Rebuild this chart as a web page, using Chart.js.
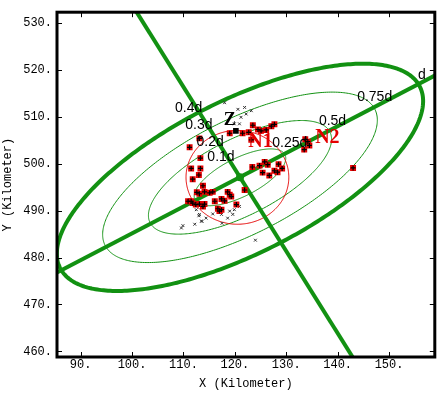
<!DOCTYPE html>
<html>
<head>
<meta charset="utf-8">
<script src="https://cdn.jsdelivr.net/npm/chart.js@4/dist/chart.umd.min.js"></script>
<style>
  html, body { margin: 0; padding: 0; background: #fff; }
  #wrap { width: 440px; height: 393px; }
</style>
</head>
<body>
<div id="wrap"><canvas id="chart" width="440" height="393"></canvas></div>
<script>
// axis ranges and ticks
const xRange = [85.4, 158.9];
const yRange = [458.8, 532.3];
const xTicks = [90, 100, 110, 120, 130, 140, 150];
const yTicks = [460, 470, 480, 490, 500, 510, 520, 530];

// error ellipse "d" and its scaled copies
const ellipseCenter = [121.0, 497.1];
const ellipseAxes = [40, 16];      // semi-major, semi-minor of the "d" ellipse
const ellipseAngle = 29.74;        // degrees
const ellipseScales = [1, 0.75, 0.5, 0.25];
const majorAxisLine = [{ x: 85.4, y: 476.8 }, { x: 158.9, y: 518.8 }];
const minorAxisLine = [{ x: 100.9, y: 532.3 }, { x: 142.9, y: 458.8 }];

// red circle
const circleCenter = [120.5, 497.1];
const circleRadius = 10;

// red events (x, y)
const redPoints = [
  [111.2, 503.5], [113.3, 501.2], [111.5, 499.0], [113.3, 499.0], [113.0, 497.6], [111.8, 496.7],
  [113.8, 495.3], [112.6, 493.9], [113.1, 493.6], [114.1, 494.0], [115.1, 493.8], [115.7, 494.0],
  [110.9, 492.0], [111.5, 492.0], [111.8, 491.6], [112.4, 491.3], [113.1, 491.4], [114.1, 491.4],
  [113.8, 490.9], [118.6, 494.0], [119.0, 493.4], [119.3, 493.0], [116.7, 490.4], [117.4, 490.2],
  [117.0, 489.9], [116.1, 492.0], [117.4, 492.5], [118.0, 492.1], [120.3, 491.3], [123.4, 499.3],
  [124.8, 499.6], [125.8, 500.4], [126.4, 499.8], [125.4, 498.1], [126.7, 497.5], [127.7, 498.5],
  [128.3, 498.2], [128.5, 499.9], [129.2, 499.0], [119.0, 506.5], [121.5, 506.5], [122.7, 506.7],
  [123.2, 505.1], [123.5, 508.2], [124.5, 507.3], [125.1, 507.0], [126.1, 507.2], [127.1, 508.0],
  [127.7, 508.4], [121.9, 494.4], [133.7, 505.2], [134.2, 504.7], [133.5, 503.0], [134.5, 503.9],
  [143.0, 499.1], [113.1, 505.4]
];

// small grey x events
const greyPoints = [
  [120.6, 511.6], [121.9, 512.0], [122.2, 510.6], [121.2, 509.9], [120.9, 508.5], [119.9, 508.5],
  [123.2, 511.3], [118.0, 513.0], [109.9, 486.8], [109.6, 486.3], [112.2, 487.1], [113.0, 488.9],
  [113.6, 487.7], [115.7, 489.3], [117.4, 489.2], [119.0, 489.9], [119.9, 490.2], [120.9, 490.9],
  [118.6, 488.4], [117.5, 487.3], [124.0, 483.7], [113.1, 489.2], [113.5, 487.8], [114.4, 488.4],
  [119.6, 489.2], [112.5, 490.2]
];

// black marker near Z
const blackPoints = [[120.2, 507.0]];

// text annotations: text, x, y
const ringLabels = [
  ['0.4d', 111.0, 511.8], ['0.3d', 113.0, 508.3], ['0.2d', 115.2, 504.5], ['0.1d', 117.3, 501.4],
  ['0.25d', 130.7, 504.3], ['0.5d', 139.0, 509.1], ['0.75d', 147.2, 514.3], ['d', 156.4, 518.8]
];
const stationLabels = [['N1', 125.0, 504.7], ['N2', 138.0, 505.6]];
const zLabel = ['Z', 119.0, 509.3];

const green = 'rgb(18,145,18)';
const red = 'rgb(228,0,0)';
const monoFont = { family: 'Liberation Mono, Courier New, monospace', size: 12 };

const toXY = arr => arr.map(p => ({ x: p[0], y: p[1] }));

const overlay = {
  id: 'overlay',
  beforeDatasetsDraw(chart) {
    const { ctx, chartArea: a, scales: { x, y } } = chart;
    ctx.save();
    ctx.beginPath();
    ctx.rect(a.left, a.top, a.right - a.left, a.bottom - a.top);
    ctx.clip();
    const th = ellipseAngle * Math.PI / 180;
    ellipseScales.forEach(s => {
      ctx.beginPath();
      for (let i = 0; i <= 360; i++) {
        const t = i * Math.PI / 180;
        const ex = s * ellipseAxes[0] * Math.cos(t);
        const ey = s * ellipseAxes[1] * Math.sin(t);
        const px = x.getPixelForValue(ellipseCenter[0] + ex * Math.cos(th) - ey * Math.sin(th));
        const py = y.getPixelForValue(ellipseCenter[1] + ex * Math.sin(th) + ey * Math.cos(th));
        if (i) ctx.lineTo(px, py); else ctx.moveTo(px, py);
      }
      ctx.closePath();
      ctx.lineWidth = s === 1 ? 4 : 1;
      ctx.strokeStyle = green;
      ctx.stroke();
    });
    // red circle
    ctx.beginPath();
    for (let i = 0; i <= 360; i++) {
      const t = i * Math.PI / 180;
      const px = x.getPixelForValue(circleCenter[0] + circleRadius * Math.cos(t));
      const py = y.getPixelForValue(circleCenter[1] + circleRadius * Math.sin(t));
      if (i) ctx.lineTo(px, py); else ctx.moveTo(px, py);
    }
    ctx.lineWidth = 1;
    ctx.strokeStyle = red;
    ctx.stroke();
    ctx.restore();
  },
  afterDatasetsDraw(chart) {
    const { ctx, scales: { x, y } } = chart;
    ctx.save();
    ctx.textAlign = 'center';
    ctx.textBaseline = 'middle';
    ctx.fillStyle = '#000';
    ctx.font = '14px "Liberation Sans", Arial, sans-serif';
    ringLabels.forEach(l => ctx.fillText(l[0], x.getPixelForValue(l[1]), y.getPixelForValue(l[2])));
    ctx.fillStyle = red;
    ctx.font = 'bold 20px "Liberation Serif", "Times New Roman", serif';
    stationLabels.forEach(l => ctx.fillText(l[0], x.getPixelForValue(l[1]), y.getPixelForValue(l[2])));
    ctx.fillStyle = '#000';
    ctx.font = 'bold 18px "Liberation Serif", "Times New Roman", serif';
    ctx.fillText(zLabel[0], x.getPixelForValue(zLabel[1]), y.getPixelForValue(zLabel[2]));
    ctx.restore();
  },
  afterDraw(chart) {
    const { ctx, chartArea: a, scales: { x, y } } = chart;
    ctx.save();
    ctx.strokeStyle = '#000';
    ctx.lineWidth = 1;
    ctx.beginPath();
    xTicks.forEach(v => {
      const px = Math.round(x.getPixelForValue(v)) + 0.5;
      ctx.moveTo(px, a.bottom); ctx.lineTo(px, a.bottom - 5);
      ctx.moveTo(px, a.top); ctx.lineTo(px, a.top + 5);
    });
    yTicks.forEach(v => {
      const py = Math.round(y.getPixelForValue(v)) + 0.5;
      ctx.moveTo(a.left, py); ctx.lineTo(a.left + 5, py);
      ctx.moveTo(a.right, py); ctx.lineTo(a.right - 5, py);
    });
    ctx.stroke();
    ctx.lineWidth = 3;
    ctx.strokeRect(a.left, a.top, a.right - a.left, a.bottom - a.top);
    ctx.restore();
  }
};

new Chart(document.getElementById('chart'), {
  type: 'scatter',
  data: {
    datasets: [
      { data: toXY(blackPoints), pointStyle: 'rect', pointRadius: 4, backgroundColor: '#000', borderWidth: 0, order: 0 },
      { data: toXY(redPoints), pointStyle: 'cross', pointRadius: 2.5, borderColor: '#000', borderWidth: 1.2, order: 1 },
      { data: toXY(redPoints), pointStyle: 'rect', pointRadius: 4.2, backgroundColor: red, borderWidth: 0, order: 2 },
      { data: toXY(greyPoints), pointStyle: 'crossRot', pointRadius: 2, borderColor: '#333', borderWidth: 1, order: 3 },
      { data: [{ x: ellipseCenter[0], y: ellipseCenter[1] }], pointRadius: 4, backgroundColor: green, borderWidth: 0, order: 4 },
      { data: majorAxisLine, showLine: true, borderColor: green, borderWidth: 4, pointRadius: 0, order: 5 },
      { data: minorAxisLine, showLine: true, borderColor: green, borderWidth: 4, pointRadius: 0, order: 5 }
    ]
  },
  options: {
    responsive: false,
    animation: false,
    devicePixelRatio: 1,
    layout: { padding: { top: 2, right: 3, left: 0, bottom: 0 } },
    plugins: { legend: { display: false }, tooltip: { enabled: false } },
    scales: {
      x: {
        type: 'linear', min: xRange[0], max: xRange[1],
        afterBuildTicks: s => { s.ticks = xTicks.map(v => ({ value: v })); },
        afterFit: s => { s.height = 36; },
        grid: { display: false, drawTicks: false },
        border: { display: false },
        ticks: { font: monoFont, color: '#000', padding: 1, maxRotation: 0, autoSkip: false, callback: v => v + '.' },
        title: { display: true, text: 'X (Kilometer)', font: monoFont, color: '#000', padding: { top: 0, bottom: 2 } }
      },
      y: {
        type: 'linear', min: yRange[0], max: yRange[1],
        afterBuildTicks: s => { s.ticks = yTicks.map(v => ({ value: v })); },
        afterFit: s => { s.width = 57; },
        grid: { display: false, drawTicks: false },
        border: { display: false },
        ticks: { font: monoFont, color: '#000', padding: 5, autoSkip: false, callback: v => v + '.' },
        title: { display: true, text: 'Y (Kilometer)', font: monoFont, color: '#000', padding: { top: 1, bottom: 0 } }
      }
    }
  },
  plugins: [overlay]
});
</script>
</body>
</html>
